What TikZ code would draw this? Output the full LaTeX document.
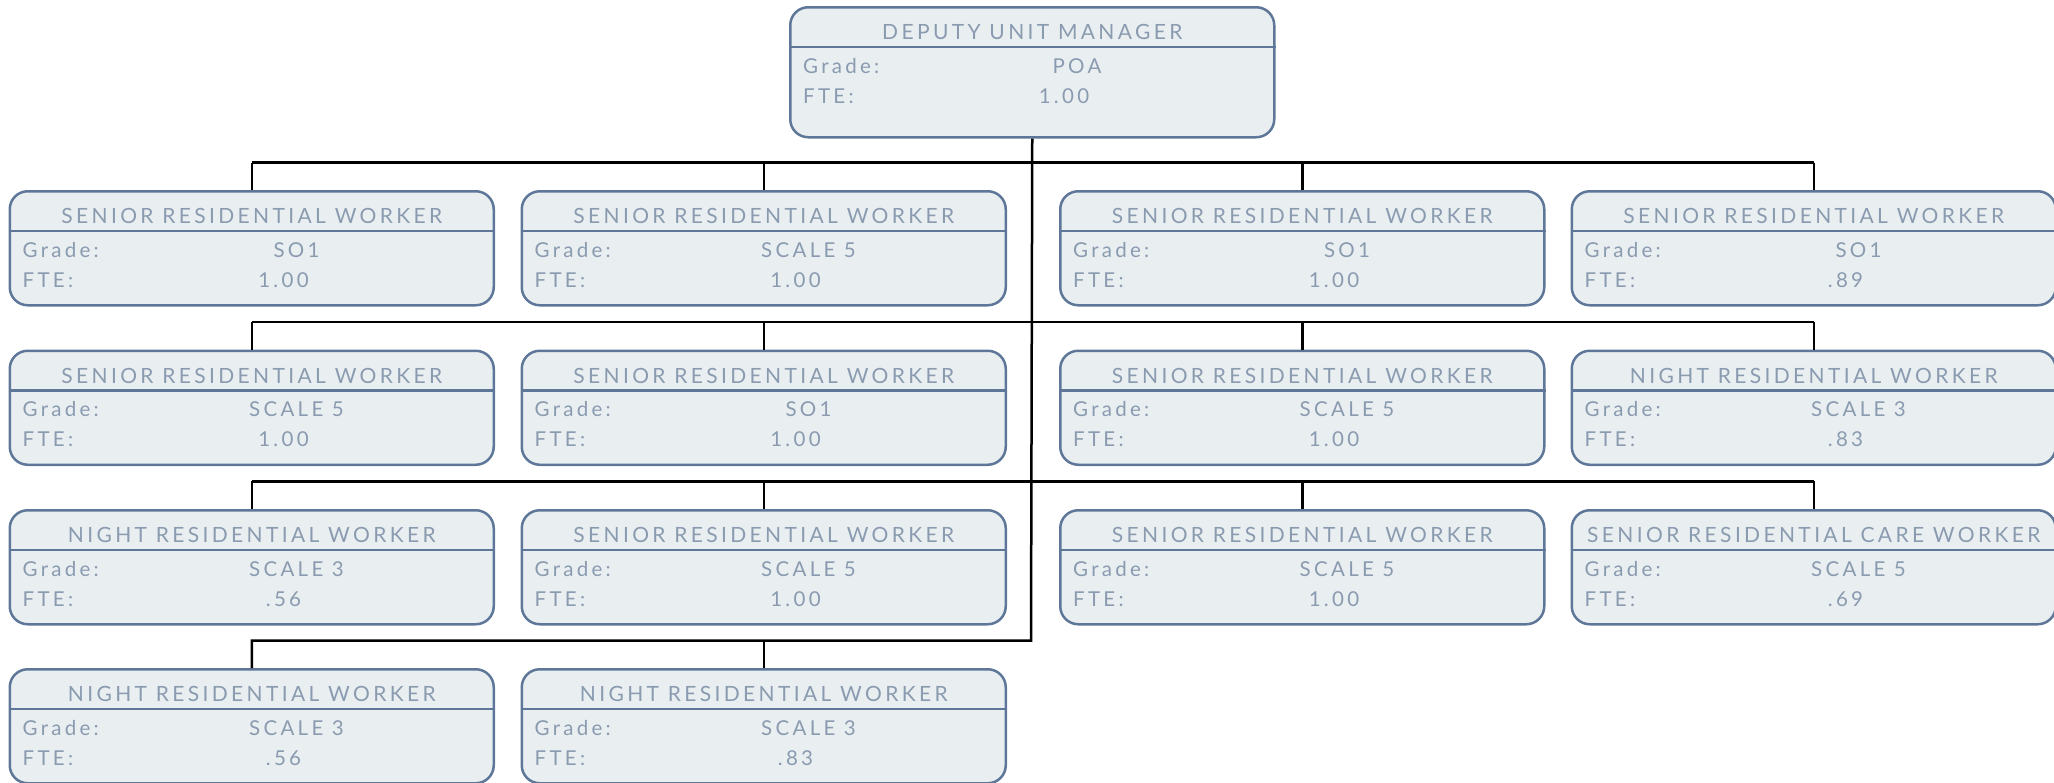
\documentclass[tikz,border=0pt]{standalone}
\usepackage{fontspec}
\setmainfont{Lato}[LetterSpace=16]
\definecolor{boxline}{RGB}{94,119,153}
\definecolor{boxfill}{RGB}{233,238,241}
\definecolor{boxtext}{RGB}{138,155,176}
\tikzset{
  orgbox/.style={draw=boxline, fill=boxfill, line width=2.5pt, rounded corners=18pt,
    minimum width=484pt, anchor=north west, inner sep=0pt},
  sepline/.style={draw=boxline, line width=2.5pt},
  titletxt/.style={text=boxtext, inner sep=0pt, font=\fontsize{21}{24}\selectfont},
  bodytxt/.style={text=boxtext, inner sep=0pt, font=\fontsize{20.5}{23}\selectfont},
  conn/.style={draw=black, line width=2.5pt}
}
\newcommand{\orgbox}[7]{%
  \node[orgbox, minimum height=#4pt] (#1) at (#2,#3) {};
  \draw[sepline] ([yshift=-41pt]#1.north west) -- ([yshift=-41pt]#1.north east);
  \node[titletxt, anchor=center] (#1-t) at ([yshift=-26pt]#1.north) {#5};
  \node[bodytxt, anchor=base west] (#1-gl) at ([xshift=14pt,yshift=-67pt]#1.north west) {Grade:};
  \node[bodytxt, anchor=base] (#1-gv) at ([xshift=288pt,yshift=-67pt]#1.north west) {#6};
  \node[bodytxt, anchor=base west] (#1-fl) at ([xshift=14pt,yshift=-97pt]#1.north west) {FTE:};
  \node[bodytxt, anchor=base] (#1-fv) at ([xshift=275pt,yshift=-97pt]#1.north west) {#7};
}
\begin{document}
\begin{tikzpicture}[x=1pt,y=-1pt]
\useasboundingbox (0,0) rectangle (2054,782);
% boxes
\orgbox{top}{789}{6}{130}{DEPUTY UNIT MANAGER}{POA}{1.00}
\orgbox{a1}{8.5}{190}{114}{SENIOR RESIDENTIAL WORKER}{SO1}{1.00}
\orgbox{a2}{520.5}{190}{114}{SENIOR RESIDENTIAL WORKER}{SCALE 5}{1.00}
\orgbox{a3}{1059}{190}{114}{SENIOR RESIDENTIAL WORKER}{SO1}{1.00}
\orgbox{a4}{1570.5}{190}{114}{SENIOR RESIDENTIAL WORKER}{SO1}{.89}
\orgbox{b1}{8.5}{349.5}{114}{SENIOR RESIDENTIAL WORKER}{SCALE 5}{1.00}
\orgbox{b2}{520.5}{349.5}{114}{SENIOR RESIDENTIAL WORKER}{SO1}{1.00}
\orgbox{b3}{1059}{349.5}{114}{SENIOR RESIDENTIAL WORKER}{SCALE 5}{1.00}
\orgbox{b4}{1570.5}{349.5}{114}{NIGHT RESIDENTIAL WORKER}{SCALE 3}{.83}
\orgbox{c1}{8.5}{509}{114}{NIGHT RESIDENTIAL WORKER}{SCALE 3}{.56}
\orgbox{c2}{520.5}{509}{114}{SENIOR RESIDENTIAL WORKER}{SCALE 5}{1.00}
\orgbox{c3}{1059}{509}{114}{SENIOR RESIDENTIAL WORKER}{SCALE 5}{1.00}
\orgbox{c4}{1570.5}{509}{114}{SENIOR RESIDENTIAL CARE WORKER}{SCALE 5}{.69}
\orgbox{d1}{8.5}{668}{114}{NIGHT RESIDENTIAL WORKER}{SCALE 3}{.56}
\orgbox{d2}{520.5}{668}{114}{NIGHT RESIDENTIAL WORKER}{SCALE 3}{.83}
% buses
\coordinate (bus1) at (1031,162.7);
\coordinate (bus2) at (1031,322);
\coordinate (bus3) at (1031,481.3);
\coordinate (bus4) at (1031,640.7);
% connectors
\draw[conn] (top.south) -- (bus4) -- (bus4 -| d1.north) -- (d1.north);
\draw[conn] (bus4 -| d2.north) -- (d2.north);
\foreach \r/\b in {a/bus1,b/bus2,c/bus3}{
  \draw[conn] (\b -| \r1.north) -- (\b -| \r4.north);
  \foreach \c in {1,2,3,4}{
    \draw[conn] (\b -| \r\c.north) -- (\r\c.north);
  }
}
\end{tikzpicture}
\end{document}
